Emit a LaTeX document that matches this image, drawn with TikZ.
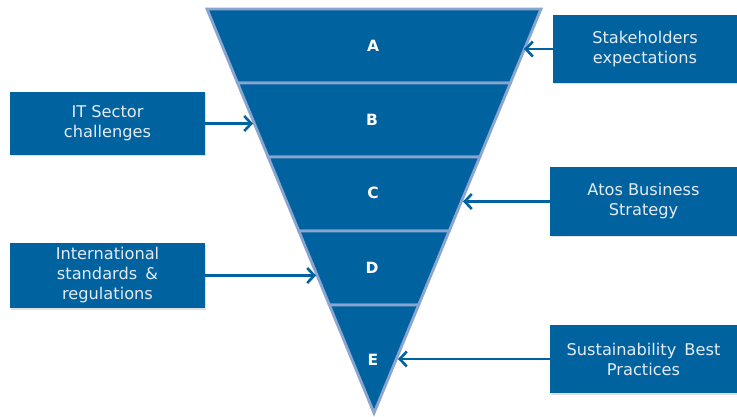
\documentclass[tikz,border=0pt]{standalone}
\usepackage{fontspec}
\setmainfont{DejaVu Sans}
\usetikzlibrary{arrows.meta,shadows}
\definecolor{fblue}{HTML}{0063A0}
\definecolor{fedge}{HTML}{8BA5D1}
\definecolor{btext}{HTML}{E4EBF3}
\tikzset{
  band/.style={fill=fblue, draw=fedge, line width=2.8pt, line join=miter},
  lbl/.style={text=white, font=\fontsize{15.5}{17}\selectfont\bfseries},
  box/.style={fill=fblue, draw=none, align=center, text=btext,
    font=\fontsize{16.2}{20}\selectfont, inner sep=0pt,
    drop shadow={opacity=0.25, shadow xshift=1pt, shadow yshift=-1.5pt}},
  arr/.style={draw=fblue, line width=2.8pt, -{Straight Barb[length=7pt,width=15pt,line width=2.6pt]}}
}
\begin{document}
\begin{tikzpicture}[x=1pt,y=-1pt]
\useasboundingbox[fill=white] (0,0) rectangle (737,417);
% edge points
\coordinate (l0) at (207,9);   \coordinate (r0) at (541,9);
\coordinate (l1) at (237.6,83); \coordinate (r1) at (510.4,83);
\coordinate (l2) at (268.2,157); \coordinate (r2) at (479.8,157);
\coordinate (l3) at (298.8,231); \coordinate (r3) at (449.2,231);
\coordinate (l4) at (329.4,305); \coordinate (r4) at (418.6,305);
\coordinate (ap) at (374,413);
\draw[band] (l0) -- (r0) -- (r1) -- (l1) -- cycle;
\draw[band] (l1) -- (r1) -- (r2) -- (l2) -- cycle;
\draw[band] (l2) -- (r2) -- (r3) -- (l3) -- cycle;
\draw[band] (l3) -- (r3) -- (r4) -- (l4) -- cycle;
\draw[band] (l4) -- (r4) -- (ap) -- cycle;
\node[lbl] (A) at (373,46) {A};
\node[lbl] (B) at (372,120) {B};
\node[lbl] (C) at (373,193) {C};
\node[lbl] (D) at (372,268) {D};
\node[lbl] (E) at (373,360) {E};
% boxes
\node[box, minimum width=184pt, minimum height=68pt] (st) at (645,49) {Stakeholders\\expectations};
\node[box, minimum width=195pt, minimum height=63pt] (it) at (107.5,123.5) {IT Sector\\challenges};
\node[box, minimum width=187pt, minimum height=69pt] (at) at (643.5,201.5) {Atos Business\\Strategy};
\node[box, minimum width=195pt, minimum height=65pt] (in) at (107.5,275.5) {International\\standards\enspace\&\\regulations};
\node[box, minimum width=187pt, minimum height=68pt] (su) at (643.5,359) {Sustainability\enspace Best\\Practices};
% targets on the funnel edge
\coordinate (tA) at (524,49);
\coordinate (tB) at (253,123.5);
\coordinate (tC) at (463,201.5);
\coordinate (tD) at (316,275.5);
\coordinate (tE) at (398,359);
\draw[arr] (st.west) -- (tA);
\draw[arr] (it.east) -- (tB);
\draw[arr] (at.west) -- (tC);
\draw[arr] (in.east) -- (tD);
\draw[arr] (su.west) -- (tE);
\end{tikzpicture}
\end{document}
